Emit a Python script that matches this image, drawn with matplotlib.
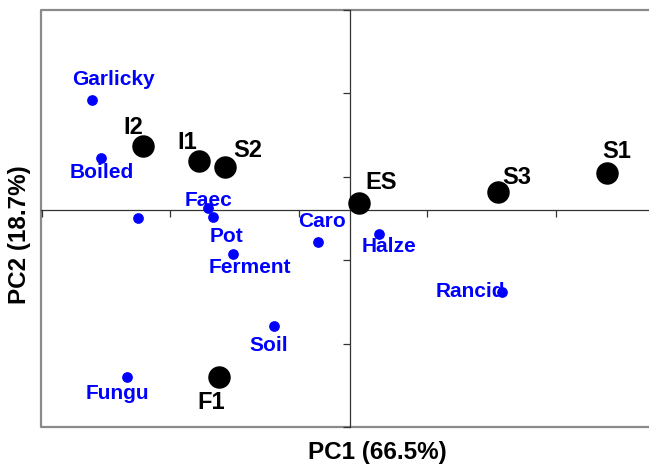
import numpy as np
import matplotlib
matplotlib.use('Agg')
from matplotlib import pyplot as plt

plt.rcParams['font.family'] = ['Liberation Sans', 'DejaVu Sans']
plt.rcParams['font.weight'] = 'bold'

# samples (black) on PC1/PC2
samples = ['I2', 'I1', 'S2', 'ES', 'S3', 'S1', 'F1']
samples_pc1 = [-1.61, -1.175, -0.973, 0.07, 1.152, 2.0, -1.019]
samples_pc2 = [0.767, 0.588, 0.516, 0.084, 0.216, 0.444, -2.002]

# odour attributes (blue)
attrs = ['Garlicky', 'Boiled', '', 'Faec', 'Pot', 'Ferment', 'Caro', 'Soil', 'Fungu', 'Halze', 'Rancid']
attrs_pc1 = [-2.008, -1.938, -1.65, -1.105, -1.066, -0.911, -0.249, -0.591, -1.735, 0.226, 1.183]
attrs_pc2 = [1.319, 0.624, -0.096, 0.024, -0.084, -0.528, -0.384, -1.391, -2.002, -0.288, -0.983]

xticks = [-2.4, -1.4, -0.4, 0.6, 1.6]
yticks = [2.4, 1.4, 0.4, -0.6, -1.6, -2.6]

# label offsets in pixels (dx, dy up)
samp_off = [(-10, 19), (-12, 19), (23, 17), (22, 21), (19, 15), (10, 22), (-8, -25)]
attr_off = [(21, 21), (1, -14), (0, 0), (0, 8), (13, -19), (17, -13), (4, 21), (-5, -19), (-10, -16), (10, -12), (-32, 1)]

fig = plt.figure(figsize=(6.49, 4.67), dpi=100)
ax = fig.add_axes([41/649, 40/467, 1 - 41/649, 417/467])

ax.set_xlim(-2.405, 2.327)
ax.set_ylim(-2.60, 2.40)

for s in ['top', 'right']:
    ax.spines[s].set_visible(False)
ax.spines['left'].set_position(('data', 0))
ax.spines['bottom'].set_position(('data', 0))
for s in ['left', 'bottom']:
    ax.spines[s].set_color('#333333')
    ax.spines[s].set_linewidth(0.9)
ax.set_xticks(xticks)
ax.set_yticks(yticks)
ax.set_xticklabels([])
ax.set_yticklabels([])
ax.tick_params(direction='out', length=5, width=0.9, color='#333333')

# outer frame (no right side)
ax.plot([1, 0, 0, 1], [1, 1, 0, 0], transform=ax.transAxes, color='#8a8a8a',
        lw=1.6, clip_on=False, zorder=1)

ax.scatter(attrs_pc1, attrs_pc2, s=45, color='#0000ff', zorder=3, clip_on=False)
ax.scatter(samples_pc1, samples_pc2, s=230, color='black', zorder=4, clip_on=False)

for name, x, y, o in zip(attrs, attrs_pc1, attrs_pc2, attr_off):
    if name:
        ax.annotate(name, (x, y), xytext=o, textcoords='offset pixels',
                    ha='center', va='center', color='#0000ff',
                    fontsize=15, fontweight='bold', zorder=5)
for name, x, y, o in zip(samples, samples_pc1, samples_pc2, samp_off):
    ax.annotate(name, (x, y), xytext=o, textcoords='offset pixels',
                ha='center', va='center', color='black',
                fontsize=17, fontweight='bold', zorder=5)

fig.text(377/649, 1 - 453/467, 'PC1 (66.5%)', ha='center', va='center',
         fontsize=17.5, fontweight='bold')
fig.text(20/649, 1 - 235/467, 'PC2 (18.7%)', ha='center', va='center',
         rotation=90, fontsize=17.5, fontweight='bold')

fig.savefig('out.png', dpi=100)
